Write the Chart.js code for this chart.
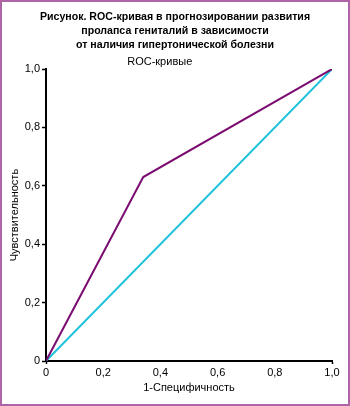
<!DOCTYPE html>
<html>
<head>
<meta charset="utf-8">
<script src="https://cdn.jsdelivr.net/npm/chart.js@4/dist/chart.umd.min.js"></script>
<style>
  html, body { margin: 0; padding: 0; background: #fff; }
  #frame {
    width: 350px; height: 406px; box-sizing: border-box;
    border: 2px solid #b064a8; background: #fff;
  }
  #roc { display: block; }
</style>
</head>
<body>
<div id="frame"><canvas id="roc" width="346" height="402"></canvas></div>
<script>
// ROC-кривые: values
const titleLines = [
  "Рисунок. ROC-кривая в прогнозировании развития",
  "пролапса гениталий в зависимости",
  "от наличия гипертонической болезни"
];
const subtitleText = "ROC-кривые" + "\u00a0".repeat(10);
const xTitle = "1-Специфичность";
const yTitle = "Чувствительность";

const rocX = [0, 0.34, 1.0];
const rocY = [0, 0.63, 1.0];
const refX = [0, 1.0];
const refY = [0, 1.0];
const tickValues = [0, 0.2, 0.4, 0.6, 0.8, 1.0];

const FONT = "'Liberation Sans', Arial, Helvetica, sans-serif";

function toPoints(xs, ys) {
  return xs.map((x, i) => ({ x: x, y: ys[i] }));
}

function fmt(v) {
  if (Math.abs(v) < 1e-9) return "0";
  return v.toFixed(1).replace(".", ",");
}

const fixedTicks = scale => {
  scale.ticks = tickValues.map(v => ({ value: v }));
};

new Chart(document.getElementById("roc").getContext("2d"), {
  type: "scatter",
  data: {
    datasets: [
      {
        label: "ROC",
        data: toPoints(rocX, rocY),
        showLine: true,
        borderColor: "#7b0c70",
        borderWidth: 2,
        pointRadius: 0,
        tension: 0
      },
      {
        label: "Reference",
        data: toPoints(refX, refY),
        showLine: true,
        borderColor: "#1ec2da",
        borderWidth: 2,
        pointRadius: 0,
        tension: 0
      }
    ]
  },
  options: {
    responsive: false,
    animation: false,
    layout: { padding: 0 },
    plugins: {
      legend: { display: false },
      tooltip: { enabled: false },
      title: {
        display: true,
        text: titleLines,
        color: "#000",
        font: { family: FONT, size: 10.6, weight: "bold", lineHeight: 1.32 },
        padding: { top: 8, bottom: 2 }
      },
      subtitle: {
        display: true,
        text: subtitleText,
        color: "#000",
        align: "center",
        font: { family: FONT, size: 11, lineHeight: 1.1 },
        padding: { top: 2, bottom: 1 }
      }
    },
    scales: {
      x: {
        type: "linear",
        min: 0,
        max: 1,
        afterBuildTicks: fixedTicks,
        afterFit: scale => { scale.height = 43; },
        border: { display: true, color: "#000", width: 2 },
        grid: {
          drawOnChartArea: false,
          tickLength: 3,
          tickColor: ctx => (ctx.tick && (ctx.tick.value === 0 || ctx.tick.value === 1)) ? "#000" : "rgba(0,0,0,0)",
          tickWidth: 1.5
        },
        ticks: {
          color: "#000",
          padding: 2,
          font: { family: FONT, size: 11 },
          callback: v => fmt(v)
        },
        title: {
          display: true,
          text: xTitle,
          color: "#000",
          font: { family: FONT, size: 11 },
          padding: { top: 0, bottom: 9 }
        }
      },
      y: {
        type: "linear",
        min: 0,
        max: 1,
        afterBuildTicks: fixedTicks,
        afterFit: scale => { scale.width = 44; },
        border: { display: true, color: "#000", width: 2 },
        grid: {
          drawOnChartArea: false,
          tickLength: 4,
          tickColor: "#000",
          tickWidth: 1.5
        },
        ticks: {
          color: "#000",
          padding: 2,
          font: { family: FONT, size: 11 },
          callback: v => fmt(v)
        },
        title: {
          display: true,
          text: yTitle,
          color: "#000",
          font: { family: FONT, size: 11 },
          padding: { top: 6, bottom: 0 }
        }
      },
      // empty right-hand axis, only reserves the margin right of the plot
      yRight: {
        type: "linear",
        position: "right",
        min: 0,
        max: 1,
        afterFit: scale => { scale.width = 16; },
        border: { display: false },
        grid: { display: false },
        ticks: { display: false }
      }
    }
  }
});
</script>
</body>
</html>
